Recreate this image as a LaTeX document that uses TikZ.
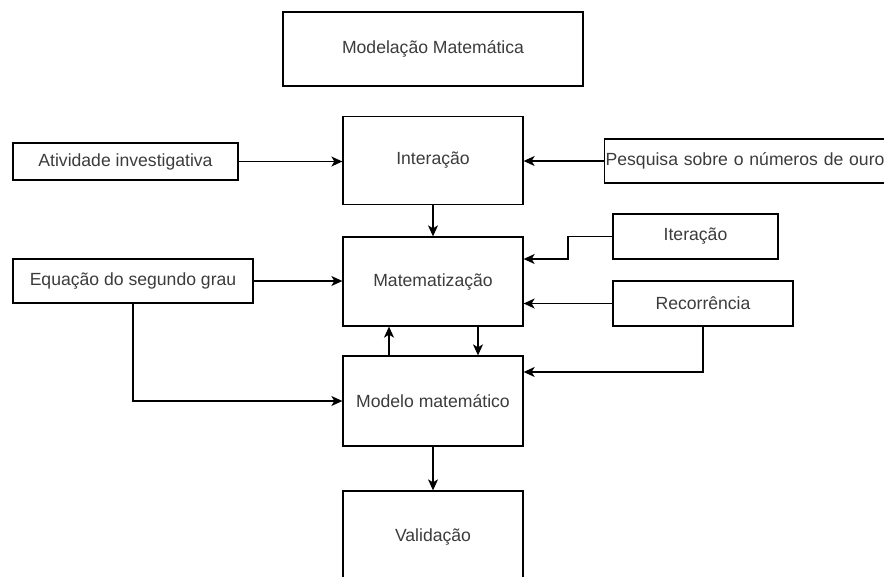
\documentclass[tikz,border=0pt]{standalone}
\usepackage{fontspec}
\setmainfont{Liberation Sans}
\usetikzlibrary{arrows.meta}
\definecolor{txt}{RGB}{60,60,60}
\tikzset{
  box/.style={draw=black, line width=1.3pt, fill=white, text=txt, font=\fontsize{17.6}{20}\selectfont, inner sep=0pt, minimum width=#1},
  conn/.style={line width=1.3pt, -{Stealth[length=11pt,width=10pt,inset=3pt]}},
}
\begin{document}
\begin{tikzpicture}[x=1pt,y=-1pt]
\clip (0,0) rectangle (884,576);
\fill[white] (0,0) rectangle (884,576);
% nodes
\node[box=300, minimum height=74] (top) at (433,49) {Modelação Matemática};
\node[box=225, minimum height=37] (ativ) at (125.5,161.5) {Atividade investigativa};
\node[box=180, minimum height=88] (inter) at (433,160.5) {Interação};
\node[box=300, minimum height=44, anchor=west, text width=298pt, inner xsep=1pt, align=left] (pesq) at (604,161) {Pesquisa sobre o números de ouro};
\node[box=180, minimum height=89] (mat) at (433,281.5) {Matematização};
\node[box=165, minimum height=45] (iter) at (695.5,236.5) {Iteração};
\node[box=180, minimum height=45] (rec) at (703,303.5) {Recorrência};
\node[box=240, minimum height=44] (eq) at (133,281) {Equação do segundo grau};
\node[box=180, minimum height=90] (mod) at (433,401) {Modelo matemático};
\node[box=180, minimum height=92] (val) at (433,537) {Validação};
% helper coordinates
\coordinate (bendI) at (568,259);
\coordinate (recY) at (0,372);
\coordinate (upX) at (389,0);
\coordinate (downX) at (478,0);
% connectors
\draw[conn] (ativ.east) -- (ativ.east -| inter.west);
\draw[conn] (pesq.west) -- (pesq.west -| inter.east);
\draw[conn] (inter.south) -- (mat.north);
\draw[conn] (iter.west) -| (bendI) -- (bendI -| mat.east);
\draw[conn] (rec.west) -- (rec.west -| mat.east);
\draw[conn] (rec.south) |- (recY -| mod.east);
\draw[conn] (mod.north -| upX) -- (mat.south -| upX);
\draw[conn] (mat.south -| downX) -- (mod.north -| downX);
\draw[conn] (eq.east) -- (eq.east -| mat.west);
\draw[conn] (eq.south) |- (mod.west);
\draw[conn] (mod.south) -- (val.north);
\end{tikzpicture}
\end{document}
